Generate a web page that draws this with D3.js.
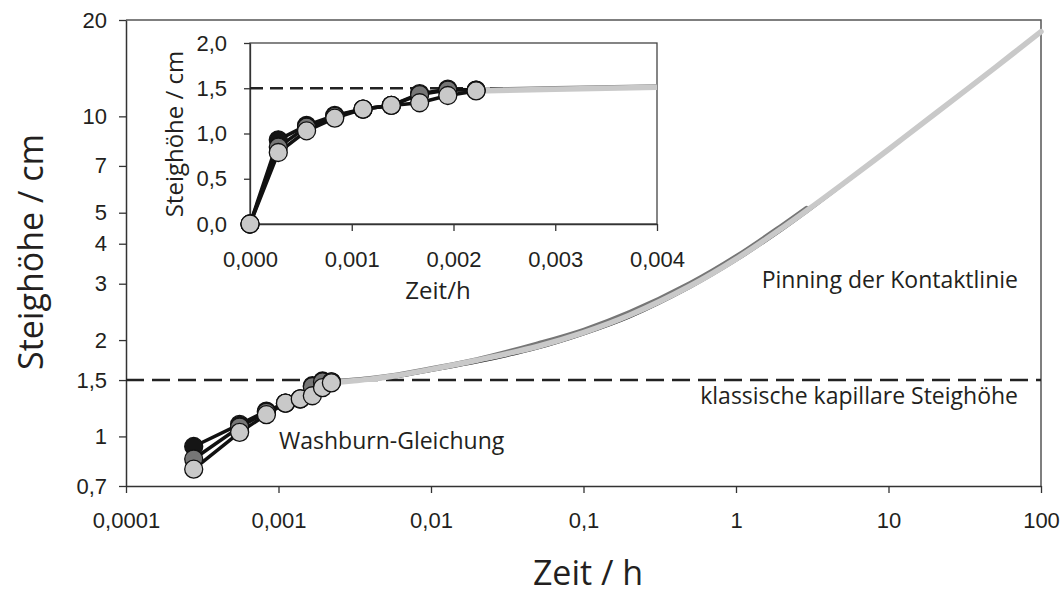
<!DOCTYPE html>
<html>
<head>
<meta charset="utf-8">
<script src="https://cdn.jsdelivr.net/npm/d3@7"></script>
<style>
  body { margin: 0; background: #fff; }
  text { fill: #231f20; }
</style>
</head>
<body>
<svg id="chart" width="1064" height="595"></svg>
<script>
// --- data (time in h, rise height in cm) ---
// measured points, one every second
const markerTime = [0, 0.000278, 0.000556, 0.000833, 0.001111, 0.001389, 0.001667, 0.001944, 0.002222];
const blackMarks = [0, 0.93, 1.09, 1.20, 1.27, 1.31, 1.44, 1.49, 1.48];
const darkMarks  = [0, 0.85, 1.07, 1.19, 1.27, 1.31, 1.43, 1.48, 1.48];
const lightMarks = [0, 0.79, 1.03, 1.17, 1.27, 1.31, 1.34, 1.42, 1.47];

// long time measurement (continuous curves)
const curveTime   = [0.002222, 0.003, 0.004, 0.006, 0.01, 0.02, 0.05, 0.1, 0.2, 0.5, 1, 2, 2.9, 5, 10, 20, 50, 100];
const blackCurve  = [1.48, 1.49, 1.50, 1.53, 1.60, 1.70, 1.88, 2.08, 2.35, 2.91, 3.53, 4.40, 5.00, 6.08, 7.82, 10.1, 14.1, 18.3];
const lightCurve  = [1.47, 1.49, 1.51, 1.55, 1.62, 1.73, 1.91, 2.11, 2.39, 2.95, 3.58, 4.47, 5.07, 6.14, 7.88, 10.15, 14.2, 18.4];
const darkCurve   = [1.48, 1.50, 1.52, 1.56, 1.63, 1.74, 1.95, 2.15, 2.44, 3.01, 3.65, 4.56, 5.17];

const capillaryHeight = 1.5;

const xTicks = [0.0001, 0.001, 0.01, 0.1, 1, 10, 100];
const yTicks = [0.7, 1, 1.5, 2, 3, 4, 5, 7, 10, 20];
const insetXTicks = [0, 0.001, 0.002, 0.003, 0.004];
const insetYTicks = [0, 0.5, 1, 1.5, 2];

// --- setup ---
const svg = d3.select('#chart');
const de = d3.formatLocale({decimal: ',', thousands: '.', grouping: [3], currency: ['', ' €']});
const comma = v => String(v).replace('.', ',');

const tickFont = "'Liberation Sans', Arial, sans-serif";
const labelFont = "'Open Sans', 'Noto Sans', sans-serif";

const colors = {black: '#151515', dark: '#767676', light: '#c9c9c9'};

// main log-log plot area
const x = d3.scaleLog().domain([0.0001, 100]).range([126, 1041]);
const y = d3.scaleLog().domain([0.7, 20]).range([486, 20]);

// frame (top and right)
svg.append('path')
  .attr('d', `M${x.range()[0]},${y.range()[1]}H${x.range()[1]}V${y.range()[0]}`)
  .attr('fill', 'none').attr('stroke', '#555').attr('stroke-width', 1.5);

const xAxis = svg.append('g')
  .attr('transform', `translate(0,${y.range()[0]})`)
  .call(d3.axisBottom(x).tickValues(xTicks).tickFormat(comma).tickSize(7).tickSizeOuter(0).tickPadding(19));
const yAxis = svg.append('g')
  .attr('transform', `translate(${x.range()[0]},0)`)
  .call(d3.axisLeft(y).tickValues(yTicks).tickFormat(comma).tickSize(7).tickSizeOuter(0).tickPadding(12));

[xAxis, yAxis].forEach(a => {
  a.select('.domain').attr('stroke', '#333').attr('stroke-width', 1.5);
  a.selectAll('.tick line').attr('stroke', '#333').attr('stroke-width', 1.3);
  a.selectAll('.tick text').attr('font-family', tickFont).attr('font-size', 22).attr('fill', '#231f20');
});

// classical capillary height
svg.append('line')
  .attr('x1', x.range()[0]).attr('x2', x.range()[1])
  .attr('y1', y(capillaryHeight)).attr('y2', y(capillaryHeight))
  .attr('stroke', '#222').attr('stroke-width', 2.5).attr('stroke-dasharray', '18,8');

// continuous curves
const curveLine = d3.line().x(d => x(d[0])).y(d => y(d[1])).curve(d3.curveCatmullRom);
const curves = [
  {vals: blackCurve, color: colors.black, w: 1.8},
  {vals: darkCurve, color: colors.dark, w: 4.5},
  {vals: lightCurve, color: colors.light, w: 5.5}
];
curves.forEach(c => {
  svg.append('path')
    .datum(c.vals.map((v, i) => [curveTime[i], v]))
    .attr('d', curveLine)
    .attr('fill', 'none').attr('stroke', c.color).attr('stroke-width', c.w)
    .attr('stroke-linecap', 'round');
});

// measured points
const markSeries = [
  {vals: blackMarks, color: colors.black},
  {vals: darkMarks, color: colors.dark},
  {vals: lightMarks, color: colors.light}
];

function drawMarks(g, sx, sy, skipZero) {
  const pts = s => s.vals.map((v, i) => [markerTime[i], v]).filter(d => !skipZero || d[0] > 0);
  const ln = d3.line().x(d => sx(d[0])).y(d => sy(d[1]));
  markSeries.forEach(s => {
    g.append('path').datum(pts(s)).attr('d', ln)
      .attr('fill', 'none').attr('stroke', '#111').attr('stroke-width', 3.5);
  });
  markSeries.forEach(s => {
    g.selectAll(null).data(pts(s)).enter().append('circle')
      .attr('cx', d => sx(d[0])).attr('cy', d => sy(d[1])).attr('r', 9)
      .attr('fill', s.color).attr('stroke', '#111').attr('stroke-width', 1.3);
  });
}
drawMarks(svg.append('g'), x, y, true);

// annotations
svg.append('text').attr('x', 279).attr('y', 449)
  .attr('font-family', labelFont).attr('font-size', 23).text('Washburn-Gleichung');
svg.append('text').attr('x', 1018).attr('y', 288).attr('text-anchor', 'end')
  .attr('font-family', labelFont).attr('font-size', 23).text('Pinning der Kontaktlinie');
svg.append('text').attr('x', 1018).attr('y', 404).attr('text-anchor', 'end')
  .attr('font-family', labelFont).attr('font-size', 23).text('klassische kapillare Steighöhe');

// axis titles
svg.append('text').attr('transform', 'translate(43,252) rotate(-90)').attr('text-anchor', 'middle')
  .attr('font-family', labelFont).attr('font-size', 34).text('Steighöhe / cm');
svg.append('text').attr('x', 588).attr('y', 585).attr('text-anchor', 'middle')
  .attr('font-family', labelFont).attr('font-size', 34).text('Zeit / h');

// --- inset (linear) ---
const ix = d3.scaleLinear().domain([0, 0.004]).range([250, 657]);
const iy = d3.scaleLinear().domain([0, 2]).range([224, 43]);
const inset = svg.append('g');

inset.append('rect')
  .attr('x', ix.range()[0]).attr('y', iy.range()[1])
  .attr('width', ix.range()[1] - ix.range()[0]).attr('height', iy.range()[0] - iy.range()[1])
  .attr('fill', '#fff').attr('stroke', '#444').attr('stroke-width', 1.3);

const ixAxis = inset.append('g')
  .attr('transform', `translate(0,${iy.range()[0]})`)
  .call(d3.axisBottom(ix).tickValues(insetXTicks).tickFormat(de.format('.3f')).tickSize(7).tickSizeOuter(0).tickPadding(20));
const iyAxis = inset.append('g')
  .attr('transform', `translate(${ix.range()[0]},0)`)
  .call(d3.axisLeft(iy).tickValues(insetYTicks).tickFormat(de.format('.1f')).tickSize(6).tickSizeOuter(0).tickPadding(17));
[ixAxis, iyAxis].forEach(a => {
  a.select('.domain').attr('stroke', '#333').attr('stroke-width', 1.3);
  a.selectAll('.tick line').attr('stroke', '#333').attr('stroke-width', 1.3);
  a.selectAll('.tick text').attr('font-family', tickFont).attr('font-size', 22).attr('fill', '#231f20');
});

inset.append('line')
  .attr('x1', ix.range()[0]).attr('x2', ix.range()[1])
  .attr('y1', iy(capillaryHeight)).attr('y2', iy(capillaryHeight))
  .attr('stroke', '#222').attr('stroke-width', 2.5).attr('stroke-dasharray', '13,7');

const insetLine = d3.line().x(d => ix(d[0])).y(d => iy(d[1]));
curves.forEach(c => {
  inset.append('path')
    .datum(c.vals.map((v, i) => [curveTime[i], v]).filter(d => d[0] <= 0.004))
    .attr('d', insetLine)
    .attr('fill', 'none').attr('stroke', c.color).attr('stroke-width', c.w);
});

drawMarks(inset.append('g'), ix, iy, false);

inset.append('text').attr('transform', 'translate(183,134) rotate(-90)').attr('text-anchor', 'middle')
  .attr('font-family', labelFont).attr('font-size', 24).text('Steighöhe / cm');
inset.append('text').attr('x', 438).attr('y', 299).attr('text-anchor', 'middle')
  .attr('font-family', labelFont).attr('font-size', 24).text('Zeit/h');
</script>
</body>
</html>
